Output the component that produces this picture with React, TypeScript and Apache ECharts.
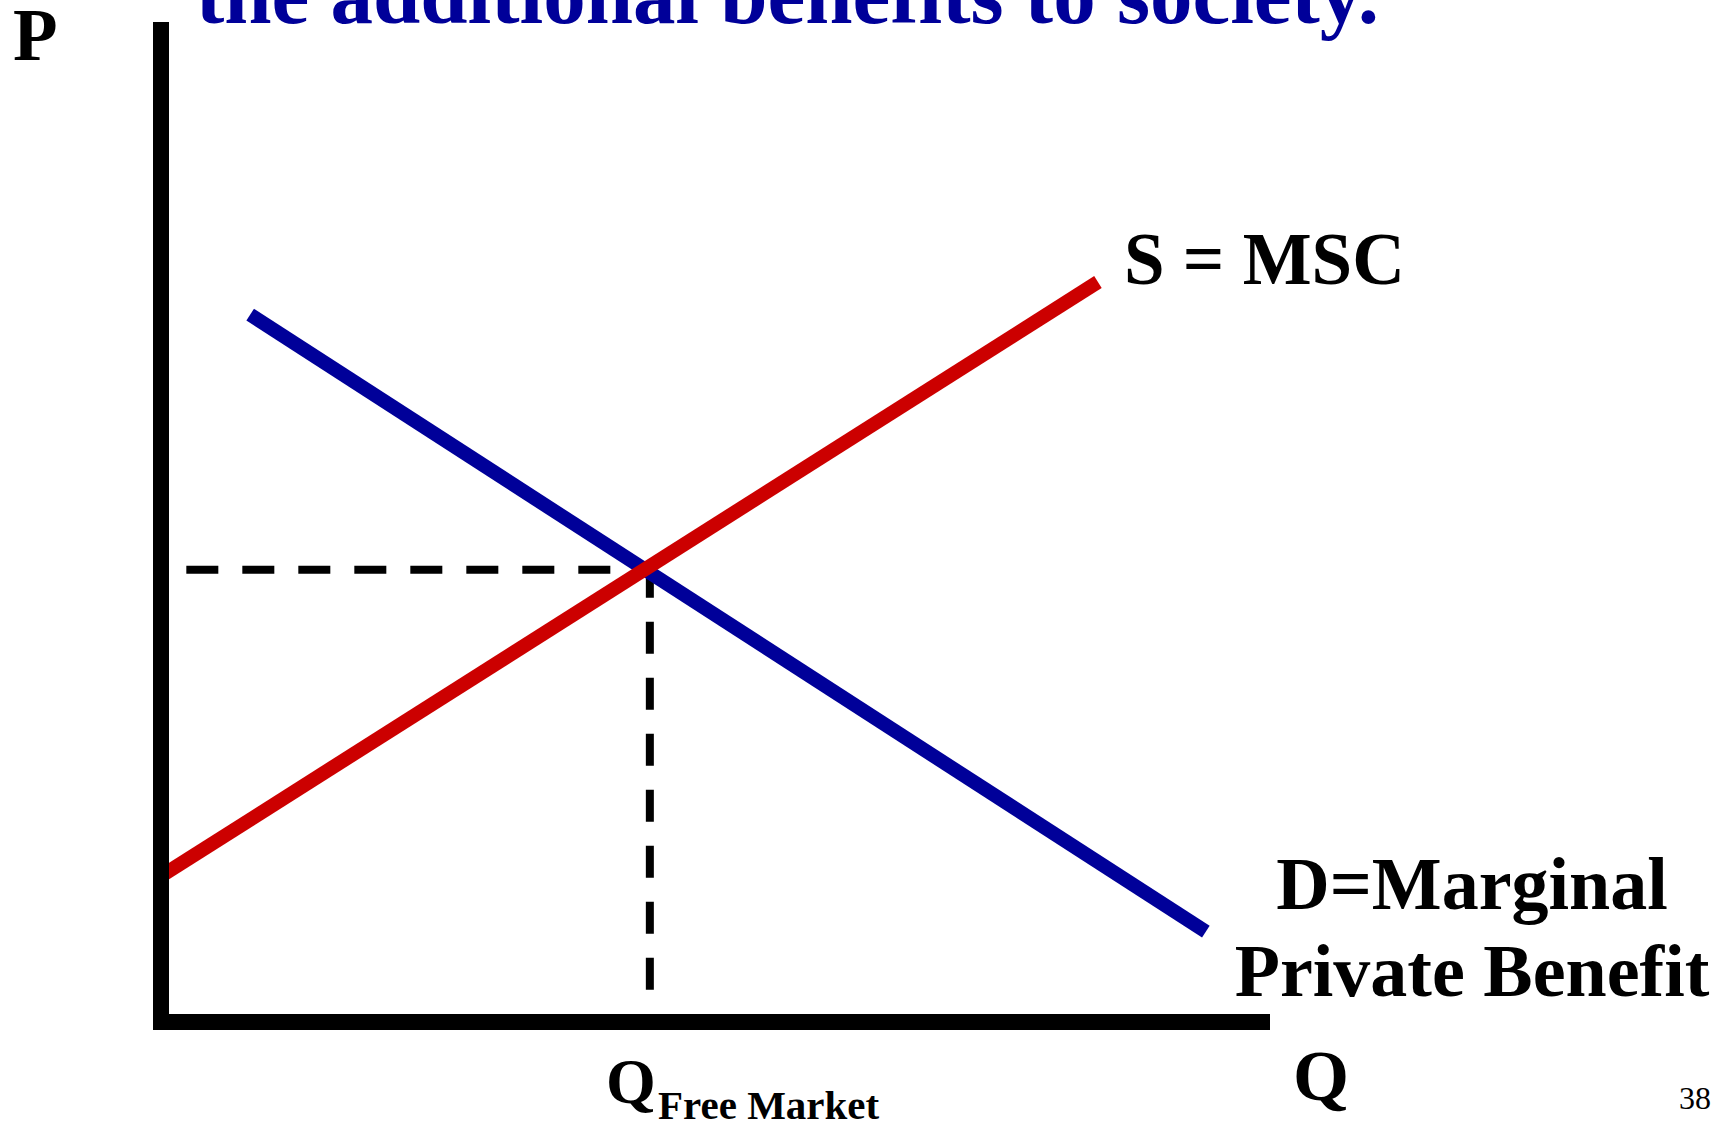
import React, { useEffect, useRef } from "react";
import * as echarts from "echarts";

// Data (Q on x, P on y; axis range 0..100)
const demandQ = [8.1, 94.9];
const demandP = [71.3, 9.1];
const supplyQ = [0, 85.1];
const supplyP = [14.7, 74.6];
const eqQ = 44.4;
const eqP = 45.6;
const dashStartQ = 2.3;
const dashTopP = 46.0;
const dashBottomP = 2.7;

const titleText = "the additional benefits to society.";
const supplyLabel = "S = MSC";
const demandLabel1 = "D=Marginal";
const demandLabel2 = "Private Benefit";
const yName = "P";
const xName = "Q";
const qMain = "Q";
const qSub = "Free Market";
const pageNum = "38";

const SERIF = '"Liberation Serif", "Times New Roman", serif';

export default function App() {
  const ref = useRef<HTMLDivElement>(null);
  useEffect(() => {
    if (!ref.current) return;
    const chart = echarts.init(ref.current, undefined, { renderer: "svg" });
    const txt = (text: string, x: number, baseline: number, size: number, opts: any = {}) => ({
      type: "text",
      x,
      y: baseline - 0.31 * size,
      z: 10,
      style: {
        text,
        fill: opts.fill || "#000",
        font: `${opts.weight || "bold"} ${size}px ${SERIF}`,
        textAlign: opts.align || "left",
        textVerticalAlign: "middle",
        lineHeight: opts.lineHeight,
      },
    });
    chart.setOption({
      animation: false,
      backgroundColor: "#fff",
      grid: { left: 161, top: 30, right: 462, bottom: 108 },
      xAxis: {
        type: "value",
        min: 0,
        max: 100,
        z: 5,
        axisLine: { show: true, lineStyle: { color: "#000", width: 16, cap: "square" } },
        axisTick: { show: false },
        axisLabel: { show: false },
        splitLine: { show: false },
      },
      yAxis: {
        type: "value",
        min: 0,
        max: 100,
        z: 5,
        axisLine: { show: true, lineStyle: { color: "#000", width: 16, cap: "square" } },
        axisTick: { show: false },
        axisLabel: { show: false },
        splitLine: { show: false },
      },
      series: [
        {
          type: "line",
          symbol: "none",
          data: [[dashStartQ, eqP], [eqQ, eqP]],
          lineStyle: { color: "#000", width: 8, type: [32, 24], cap: "butt" },
          z: 1,
        },
        {
          type: "line",
          symbol: "none",
          data: [[eqQ, dashTopP], [eqQ, dashBottomP]],
          lineStyle: { color: "#000", width: 8, type: [32, 24], cap: "butt" },
          z: 1,
        },
        {
          type: "line",
          symbol: "none",
          data: demandQ.map((q, i) => [q, demandP[i]]),
          lineStyle: { color: "#000099", width: 14, cap: "butt" },
          z: 2,
        },
        {
          type: "line",
          symbol: "none",
          data: supplyQ.map((q, i) => [q, supplyP[i]]),
          lineStyle: { color: "#CC0000", width: 14, cap: "butt" },
          z: 3,
        },
      ],
      graphic: [
        txt(titleText, 196, 20, 85, { fill: "#000099" }),
        txt(yName, 13, 58, 73, { lineHeight: 64 }),
        txt(supplyLabel, 1124, 282, 73),
        txt(demandLabel1, 1472, 907, 74, { align: "center" }),
        txt(demandLabel2, 1472, 994, 74, { align: "center" }),
        txt(xName, 1293, 1098, 72),
        txt(qMain, 606, 1101, 64),
        txt(qSub, 658, 1118, 41),
        txt(pageNum, 1679, 1108, 32, { weight: "normal" }),
      ],
    });
    return () => chart.dispose();
  }, []);
  return (
    <div
      ref={ref}
      style={{ position: "fixed", left: 0, top: 0, width: 1724, height: 1130 }}
    />
  );
}
